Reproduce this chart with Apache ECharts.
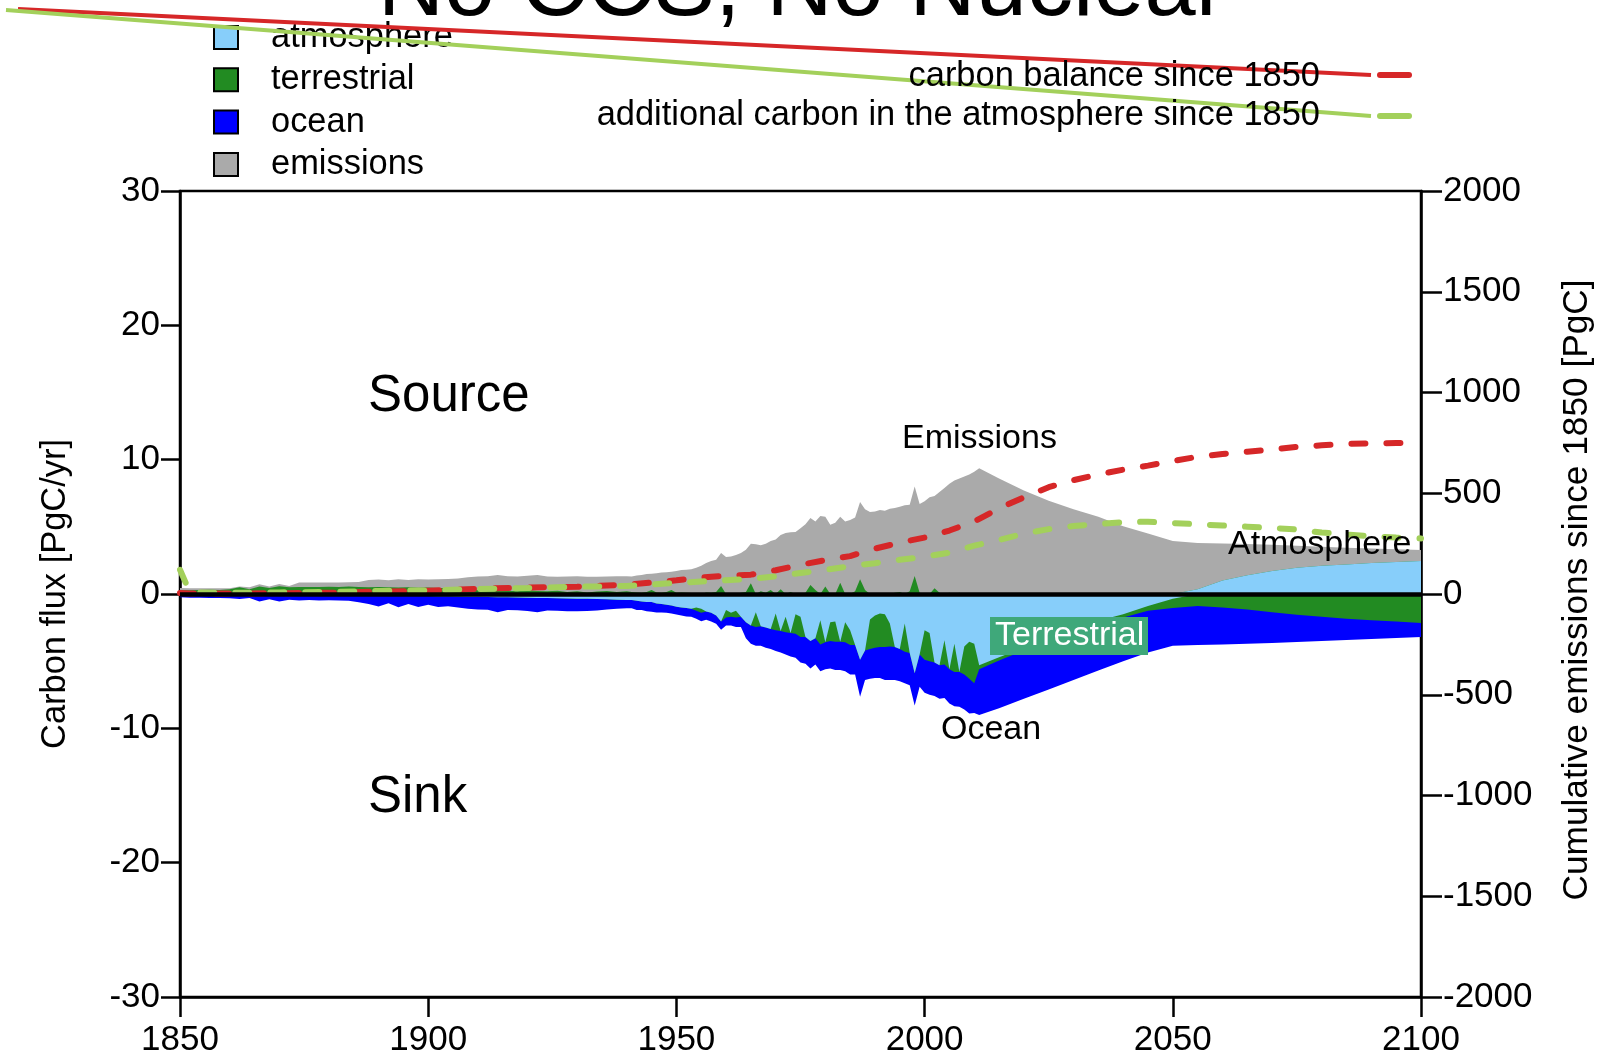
<!DOCTYPE html>
<html>
<head>
<meta charset="utf-8">
<title>No CCS, No Nuclear</title>
<script src="https://cdn.jsdelivr.net/npm/echarts@6/dist/echarts.min.js"></script>
<style>
  html, body { margin: 0; padding: 0; background: #fff; }
  #chart { width: 1604px; height: 1056px; }
</style>
</head>
<body>
<div id="chart"></div>
<script>
// x positions: every 2 years early on, yearly for the spiky part, 5-yearly for the projection
const yearsEarly = [1850,1852,1854,1856,1858,1860,1862,1864,1866,1868,1870,1872,1874,1876,1878,1880,1882,1884,1886,1888,
  1890,1892,1894,1896,1898,1900,1902,1904,1906,1908,1910,1912,1914,1916,1918,1920,1922,1924,1926,1928,
  1930,1932,1934,1936,1938,1940]
const yearsRecent = [1941,1942,1943,1944,1945,1946,1947,1948,1949,1950,1951,1952,1953,1954,1955,1956,1957,1958,1959,1960,
  1961,1962,1963,1964,1965,1966,1967,1968,1969,1970,1971,1972,1973,1974,1975,1976,1977,1978,1979,1980,
  1981,1982,1983,1984,1985,1986,1987,1988,1989,1990,1991,1992,1993,1994,1995,1996,1997,1998,1999,2000,
  2001,2002,2003,2004,2005,2006,2007,2008,2009,2010]
const yearsFuture = [2011,2015,2020,2025,2030,2035,2040,2045,2050,2055,2060,2065,2070,2075,2080,2085,2090,2095,2100]

// carbon fluxes [PgC/yr]
const emissions = [
  0.45,0.42,0.42,0.42,0.42,0.43,0.55,0.5,0.72,0.55,0.74,0.6,0.85,0.85,0.85,0.86,0.86,0.87,0.9,1.05,
  1.08,1.02,1.1,1.05,1.1,1.08,1.1,1.12,1.15,1.25,1.3,1.33,1.42,1.33,1.3,1.35,1.42,1.3,1.28,1.3,
  1.32,1.28,1.28,1.3,1.32,1.33,
  1.30,1.38,1.42,1.48,1.50,1.55,1.60,1.62,1.66,1.72,1.78,1.80,1.85,1.95,2.10,2.30,2.45,2.55,3.05,2.75,
  2.80,2.90,3.05,3.30,3.75,3.70,3.62,3.75,3.95,4.05,4.40,4.55,4.60,4.62,4.90,5.20,5.65,5.40,5.80,5.75,
  5.15,5.30,5.75,5.40,5.50,5.70,6.85,6.30,6.10,6.15,6.25,6.20,6.35,6.40,6.50,6.60,6.65,8.00,6.70,6.90,
  7.20,7.30,7.60,7.90,8.20,8.45,8.60,8.75,8.90,9.10,
  9.36,8.6,7.7,6.95,6.3,5.75,5.05,4.5,3.95,3.8,3.76,3.72,3.66,3.6,3.52,3.45,3.39,3.33,3.28
]
const atmosphere = [
  -0.05,-0.06,-0.06,-0.07,-0.07,-0.08,-0.08,-0.08,-0.1,-0.1,-0.1,-0.1,-0.1,-0.1,-0.1,-0.1,-0.11,-0.11,-0.12,-0.12,
  -0.13,-0.13,-0.14,-0.14,-0.15,-0.15,-0.16,-0.17,-0.18,-0.2,-0.2,-0.22,-0.25,-0.25,-0.26,-0.28,-0.3,-0.3,-0.32,-0.33,
  -0.35,-0.36,-0.38,-0.4,-0.42,-0.45,
  -0.45,-0.5,-0.55,-0.6,-0.6,-0.7,-0.75,-0.8,-0.85,-0.95,-1.0,-1.05,-1.1,-1.0,-1.1,-1.3,-1.4,-1.6,-2.05,-1.2,
  -1.4,-1.25,-1.7,-2.1,-2.35,-1.35,-2.4,-2.5,-2.6,-1.45,-2.75,-1.7,-2.9,-1.5,-1.7,-3.2,-3.5,-3.3,-1.95,-3.6,
  -2.1,-2.05,-3.55,-2.1,-2.7,-3.8,-4.9,-4.2,-1.9,-1.6,-1.45,-1.5,-2.2,-3.95,-4.1,-2.2,-4.4,-5.9,-4.5,-2.7,
  -2.9,-5.1,-5.3,-3.45,-5.6,-3.7,-5.8,-3.9,-3.55,-3.7,
  -5.3,-4.7,-4.0,-3.3,-2.6,-2.0,-1.5,-0.9,-0.35,0.35,1.0,1.4,1.72,1.95,2.1,2.2,2.3,2.38,2.45
]
const terrestrial = [
  0.3,0.28,0.3,0.32,0.3,0.35,0.5,0.35,0.55,0.45,0.58,0.5,0.52,0.53,0.52,0.54,0.53,0.55,0.52,0.5,
  0.52,0.5,0.48,0.5,0.47,0.48,0.45,0.45,0.4,0.35,0.3,0.28,0.3,0.25,0.2,0.28,0.22,0.2,0.25,0.15,
  0.2,0.12,0.18,0.22,0.15,0.2,
  0.15,0.12,0.1,0.15,0.3,0.12,0.1,0.15,0.3,0.1,0.12,0.1,0.08,-0.25,-0.3,0.12,0.1,0.15,0.6,-0.55,
  -0.3,-0.5,0.1,0.15,0.8,-1.1,0.2,0.1,0.3,-1.25,0.35,-1.15,0.15,-1.45,-1.5,0.1,0.67,0.3,-1.8,0.55,
  -1.4,-1.5,0.84,-1.5,-1.1,0.2,1.09,0.3,-2.2,-2.4,-2.5,-2.45,-1.7,0.1,0.15,-2.1,0.2,1.34,0.1,-2.2,
  -2.1,0.43,0.1,-1.8,0.1,-2.1,0.1,-2.1,-2.75,-2.95,
  -0.3,-0.25,-0.2,-0.2,-0.2,-0.2,-0.25,-0.35,-0.7,-0.9,-1.0,-1.15,-1.35,-1.55,-1.7,-1.85,-1.95,-2.05,-2.15
]
const ocean = [
  -0.2,-0.22,-0.22,-0.22,-0.23,-0.23,-0.3,-0.22,-0.45,-0.3,-0.45,-0.32,-0.38,-0.35,-0.38,-0.36,-0.38,-0.4,-0.5,-0.62,
  -0.8,-0.55,-0.85,-0.6,-0.82,-0.65,-0.8,-0.75,-0.82,-0.9,-0.95,-0.95,-1.1,-0.95,-0.95,-0.98,-1.05,-0.92,-0.92,-0.95,
  -0.93,-0.9,-0.85,-0.75,-0.68,-0.62,
  -0.62,-0.7,-0.65,-0.68,-0.72,-0.68,-0.62,-0.6,-0.6,-0.58,-0.6,-0.62,-0.6,-0.6,-0.62,-0.62,-0.65,-0.62,-0.62,-0.6,
  -0.65,-0.7,-0.75,-1.2,-1.35,-1.4,-1.45,-1.5,-1.5,-1.55,-1.6,-1.65,-1.75,-1.8,-1.9,-2.0,-2.05,-1.95,-2.0,-2.0,
  -2.05,-2.1,-2.1,-2.15,-2.2,-2.2,-2.75,-2.2,-2.2,-2.25,-2.3,-2.45,-2.5,-2.45,-2.4,-2.35,-2.4,-2.4,-2.4,-2.45,
  -2.5,-2.5,-2.5,-2.5,-2.55,-2.55,-2.6,-2.6,-2.6,-2.2,
  -3.4,-3.55,-3.6,-3.6,-3.6,-3.5,-3.25,-3.1,-2.8,-2.9,-2.75,-2.55,-2.3,-2.03,-1.8,-1.57,-1.4,-1.23,-1.05
]

// cumulative amounts since 1850 [PgC], right axis
const cumYears = [1850,1852,1860,1870,1880,1890,1900,1910,1920,1930,1940,1950,1955,1960,1965,1970,1975,1980,1985,1990,
  1995,2000,2005,2010,2015,2020,2025,2030,2035,2040,2045,2050,2055,2060,2065,2070,2075,2080,2085,2090,2095,2100]
const balance = [5,2,2,4,6,12,16,26,32,36,46,68,82,90,96,118,145,168,188,225,
  255,280,315,360,425,480,530,565,593,617,637,660,681,695,706,718,730,738,745,748,749,750]
const atmCum = [120,8,6,8,10,15,18,25,30,36,40,55,62,68,75,88,104,120,138,153,
  170,185,205,240,268,300,322,337,348,356,359,352,346,340,334,328,320,305,295,287,280,276]

const fluxTicks = { min: -30, max: 30, step: 10 }
const cumTicks = { min: -2000, max: 2000, step: 500 }
const yearTicks = { min: 1850, max: 2100, step: 50 }

const years = yearsEarly.concat(yearsRecent, yearsFuture)
const pair = (xs, ys) => xs.map((x, i) => [x, ys[i]])

// same-sign stacking: sources build up from 0, sinks build down from 0 (atmosphere, terrestrial, ocean)
const pos = v => Math.max(v, 0)
const neg = v => Math.min(v, 0)
const atmUp = atmosphere.map(pos)
const landUp = atmosphere.map((a, i) => pos(a) + pos(terrestrial[i]))
const atmDown = atmosphere.map(neg)
const landDown = atmosphere.map((a, i) => neg(a) + neg(terrestrial[i]))
const oceanDown = landDown.map((v, i) => v + ocean[i])

// narrow font check, fall back to a smaller regular font
const probe = document.createElement('canvas').getContext('2d')
probe.font = "40px 'Liberation Sans Narrow', monospace"
const wNarrow = probe.measureText('abcdefghijklmnop').width
probe.font = '40px monospace'
const wMono = probe.measureText('abcdefghijklmnop').width
const hasNarrow = Math.abs(wNarrow - wMono) > 1
const NARROW = hasNarrow ? "'Liberation Sans Narrow', sans-serif" : "'Liberation Sans', Arial, sans-serif"
const k = hasNarrow ? 1 : 0.82
const REG = "'Liberation Sans', Arial, sans-serif"

const GRAY = '#aaaaaa'
const SKY = '#87cefa'
const GREEN = '#228b22'
const BLUE = '#0000ff'
const RED = '#d62728'
const LIME = '#a3d05b'

// painted from the outside in, each filled to the zero line
const area = (name, vals, color) => ({
  name,
  type: 'line',
  data: pair(years, vals),
  symbol: 'none',
  showSymbol: false,
  lineStyle: { width: 0, opacity: 0 },
  itemStyle: { color },
  areaStyle: { color, opacity: 1 },
  emphasis: { disabled: true },
  silent: true
})

const plotDom = echarts.init(document.getElementById('chart'), null, { renderer: 'canvas' })

const axisCommon = {
  axisLine: { show: true, onZero: false, lineStyle: { color: '#000', width: 2.5 } },
  splitLine: { show: false }
}
const plain = v => String(v)

const topSink = area('atmosphere', atmDown, SKY)
topSink.markLine = {
  silent: true,
  symbol: ['none', 'none'],
  label: { show: false },
  lineStyle: { color: '#000', width: 4.5, type: 'solid' },
  data: [{ yAxis: 0 }]
}

const txt = (x, y, text, font, extra) => ({
  type: 'text', z: 60, x, y, ...(extra || {}),
  style: { text, fill: '#000', font, align: 'left', verticalAlign: 'middle', textAlign: 'left', textVerticalAlign: 'middle', ...((extra && extra.st) || {}) }
})

const option = {
  animation: false,
  backgroundColor: '#fff',
  title: {
    text: 'No CCS, No Nuclear',
    left: 'center',
    top: -61,
    textStyle: { fontFamily: REG, fontSize: 92, fontWeight: 'normal', color: '#000' }
  },
  legend: {
    data: ['atmosphere', 'terrestrial', 'ocean', 'emissions'],
    orient: 'vertical',
    left: 213,
    top: 16.5,
    padding: 0,
    itemWidth: 24,
    itemHeight: 23,
    itemGap: 0.3,
    icon: 'rect',
    selectedMode: false,
    itemStyle: { borderColor: '#000', borderWidth: 2 },
    textStyle: { fontFamily: NARROW, fontSize: 42 * k, lineHeight: 42, color: '#000', padding: [0, 0, 0, 28] }
  },
  grid: {
    left: 180, right: 183, top: 191, bottom: 59,
    show: true, borderColor: '#000', borderWidth: 2.5,
    outerBoundsMode: 'none'
  },
  xAxis: {
    type: 'value',
    min: yearTicks.min, max: yearTicks.max, interval: yearTicks.step,
    ...axisCommon,
    axisTick: { show: true, length: 20, lineStyle: { color: '#000', width: 2.5 } },
    axisLabel: { color: '#000', fontFamily: REG, fontSize: 35, margin: 26, showMinLabel: true, showMaxLabel: true, formatter: plain }
  },
  yAxis: [
    {
      type: 'value', position: 'left',
      min: fluxTicks.min, max: fluxTicks.max, interval: fluxTicks.step,
      ...axisCommon,
      axisTick: { show: true, length: 19, lineStyle: { color: '#000', width: 2.5 } },
      axisLabel: { color: '#000', fontFamily: REG, fontSize: 35, margin: 20, formatter: plain }
    },
    {
      type: 'value', position: 'right',
      min: cumTicks.min, max: cumTicks.max, interval: cumTicks.step,
      ...axisCommon,
      axisTick: { show: true, length: 21, lineStyle: { color: '#000', width: 2.5 } },
      axisLabel: { color: '#000', fontFamily: REG, fontSize: 35, margin: 22, formatter: plain }
    }
  ],
  series: [
    area('emissions', emissions, GRAY),
    area('terrestrial', landUp, GREEN),
    area('atmosphere', atmUp, SKY),
    area('ocean', oceanDown, BLUE),
    area('terrestrial', landDown, GREEN),
    topSink,
    {
      name: 'carbon balance since 1850',
      type: 'line',
      yAxisIndex: 1,
      data: pair(cumYears, balance),
      symbol: 'none',
      lineStyle: { color: RED, width: 6, type: [14, 21], cap: 'round' },
      silent: true
    },
    {
      name: 'additional carbon in the atmosphere since 1850',
      type: 'line',
      yAxisIndex: 1,
      data: pair(cumYears, atmCum),
      symbol: 'none',
      lineStyle: { color: LIME, width: 6, type: [14, 21], cap: 'round' },
      silent: true
    }
  ],
  graphic: [
    // stray legend strokes
    { type: 'line', z: 50, shape: { x1: 18, y1: 9, x2: 1371, y2: 75 }, style: { stroke: RED, lineWidth: 4 } },
    { type: 'line', z: 50, shape: { x1: 6, y1: 10, x2: 1371, y2: 116 }, style: { stroke: LIME, lineWidth: 4 } },
    { type: 'line', z: 50, shape: { x1: 1380, y1: 75, x2: 1409, y2: 75 }, style: { stroke: RED, lineWidth: 6, lineCap: 'round' } },
    { type: 'line', z: 50, shape: { x1: 1380, y1: 116, x2: 1409, y2: 116 }, style: { stroke: LIME, lineWidth: 6, lineCap: 'round' } },
    txt(1320, 77, 'carbon balance since 1850', `${42 * k}px ${NARROW}`, { st: { align: 'right', textAlign: 'right' } }),
    txt(1320, 116, 'additional carbon in the atmosphere since 1850', `${42 * k}px ${NARROW}`, { st: { align: 'right', textAlign: 'right' } }),
    // axis names
    txt(56, 594, 'Carbon flux [PgC/yr]', `${42 * k}px ${NARROW}`, { rotation: Math.PI / 2, st: { align: 'center', textAlign: 'center' } }),
    txt(1577, 590, 'Cumulative emissions since 1850 [PgC]', `${43 * k}px ${NARROW}`, { rotation: Math.PI / 2, st: { align: 'center', textAlign: 'center' } }),
    // annotations
    txt(368, 397, 'Source', `51px ${REG}`),
    txt(368, 798, 'Sink', `51px ${REG}`),
    txt(902, 439, 'Emissions', `34px ${REG}`),
    txt(1228, 545, 'Atmosphere', `34px ${REG}`),
    txt(941, 730, 'Ocean', `34px ${REG}`),
    { type: 'rect', z: 59, shape: { x: 990, y: 617, width: 158, height: 38 }, style: { fill: '#3fa87a' } },
    txt(995, 636, 'Terrestrial', `34px ${REG}`, { st: { fill: '#fff' } })
  ]
}

plotDom.setOption(option)
window.addEventListener('resize', function () {
  plotDom.resize()
})
</script>
</body>
</html>
